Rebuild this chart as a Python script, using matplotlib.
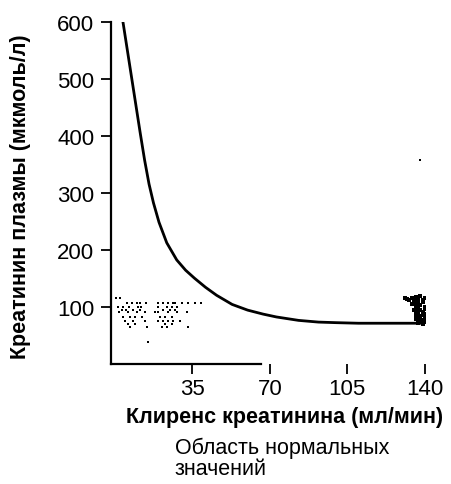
import matplotlib
matplotlib.use('Agg')
import matplotlib.pyplot as plt

plt.rcParams['font.family'] = ['Liberation Sans', 'DejaVu Sans']

# curve (clearance ml/min, creatinine umol/l)
clearance = [3.7, 5.5, 7.5, 9.5, 11.5, 13.5, 15.5, 17.5, 20, 23.5, 28, 32, 36,
             41, 46, 53, 60, 67, 73, 83, 92, 100, 110, 120, 130, 139]
creatinine = [600, 555, 505, 455, 405, 357, 315, 282, 248, 212, 182, 164, 150,
              134, 120, 104, 94, 87, 82, 76, 73, 72, 71, 71, 71, 71]

# speckled cloud of values (left) and the dense block at the right edge
dots_x = [0.4, 2.4, 5.4, 7.6, 9.9, 11.4, 14.0, 19.7, 21.9, 24.2, 26.4, 27.2, 30.2, 33.2, 36.2, 38.9,
          1.6, 3.9, 6.5, 10.7, 11.9, 19.7, 23.4, 25.7, 28.0,
          3.1, 4.9, 8.4, 11.4, 21.9, 24.9, 27.2,
          1.9, 6.1, 9.9, 13.7, 18.2, 19.7, 24.2, 28.0, 32.5,
          3.9, 6.9, 9.2, 12.2, 20.4, 22.7, 25.7,
          4.6, 8.4, 13.7, 19.7, 21.9, 24.2, 26.4, 29.5,
          6.1, 9.2, 22.7, 25.7,
          6.9, 14.4, 21.2, 23.4, 33.2,
          14.9, 137.7]
dots_y = [116, 116, 106, 106, 106, 106, 106, 106, 106, 106, 106, 106, 106, 106, 106, 106,
          100, 100, 100, 100, 100, 100, 100, 100, 100,
          94, 94, 94, 94, 94, 94, 94,
          90, 90, 90, 90, 90, 90, 90, 90, 90,
          82, 82, 82, 82, 82, 82, 82,
          75, 75, 75, 75, 75, 75, 75, 75,
          70, 70, 70, 70,
          65, 65, 65, 65, 65,
          38, 357]
block_x = [131, 132, 133, 134, 135, 136, 137, 138, 139, 140,
           134, 135, 136, 137, 138, 139, 140, 135, 136, 137, 138, 139, 140,
           136, 137, 138, 139, 140, 136, 137, 138, 139, 140, 137, 138, 139, 140]
block_y = [116, 114, 112, 115, 110, 117, 113, 118, 111, 115,
           104, 107, 101, 106, 103, 108, 100, 95, 92, 97, 94, 90, 96,
           86, 88, 83, 85, 87, 79, 76, 81, 77, 80, 72, 74, 70, 73]

x_ticks = [35, 70, 105, 140]
y_ticks = [100, 200, 300, 400, 500, 600]

fig = plt.figure(figsize=(4.51, 4.85), dpi=100)
ax = fig.add_axes([0.246, 0.248, 0.696, 0.7054])

ax.plot(clearance, creatinine, color='black', linewidth=2.0, solid_capstyle='round')
ax.scatter(dots_x, dots_y, s=1.5, color='black', marker='s', linewidths=0)
ax.scatter(block_x, block_y, s=5, color='black', marker='s', linewidths=0)

ax.set_xlim(-1.7, 140)
ax.set_ylim(0, 600)
ax.set_xticks(x_ticks)
ax.set_yticks(y_ticks)

for side in ['top', 'right']:
    ax.spines[side].set_visible(False)
for side in ['left', 'bottom']:
    ax.spines[side].set_linewidth(1.6)
ax.spines['bottom'].set_bounds(-1.7, 66)

ax.tick_params(direction='out', length=7, width=1.3, labelsize=16)
ax.tick_params(axis='y', pad=5)
ax.tick_params(axis='x', pad=3)

fig.text(0.045, 0.595, 'Креатинин плазмы (мкмоль/л)', rotation=90,
         ha='center', va='center', fontsize=15.5, fontweight='bold')
fig.text(0.632, 0.14, 'Клиренс креатинина (мл/мин)', ha='center', va='center',
         fontsize=15.5, fontweight='bold')
fig.text(0.388, 0.01, 'Область нормальных\nзначений', ha='left', va='bottom',
         fontsize=15.5, linespacing=1.0)

fig.savefig('out.png', dpi=100)
